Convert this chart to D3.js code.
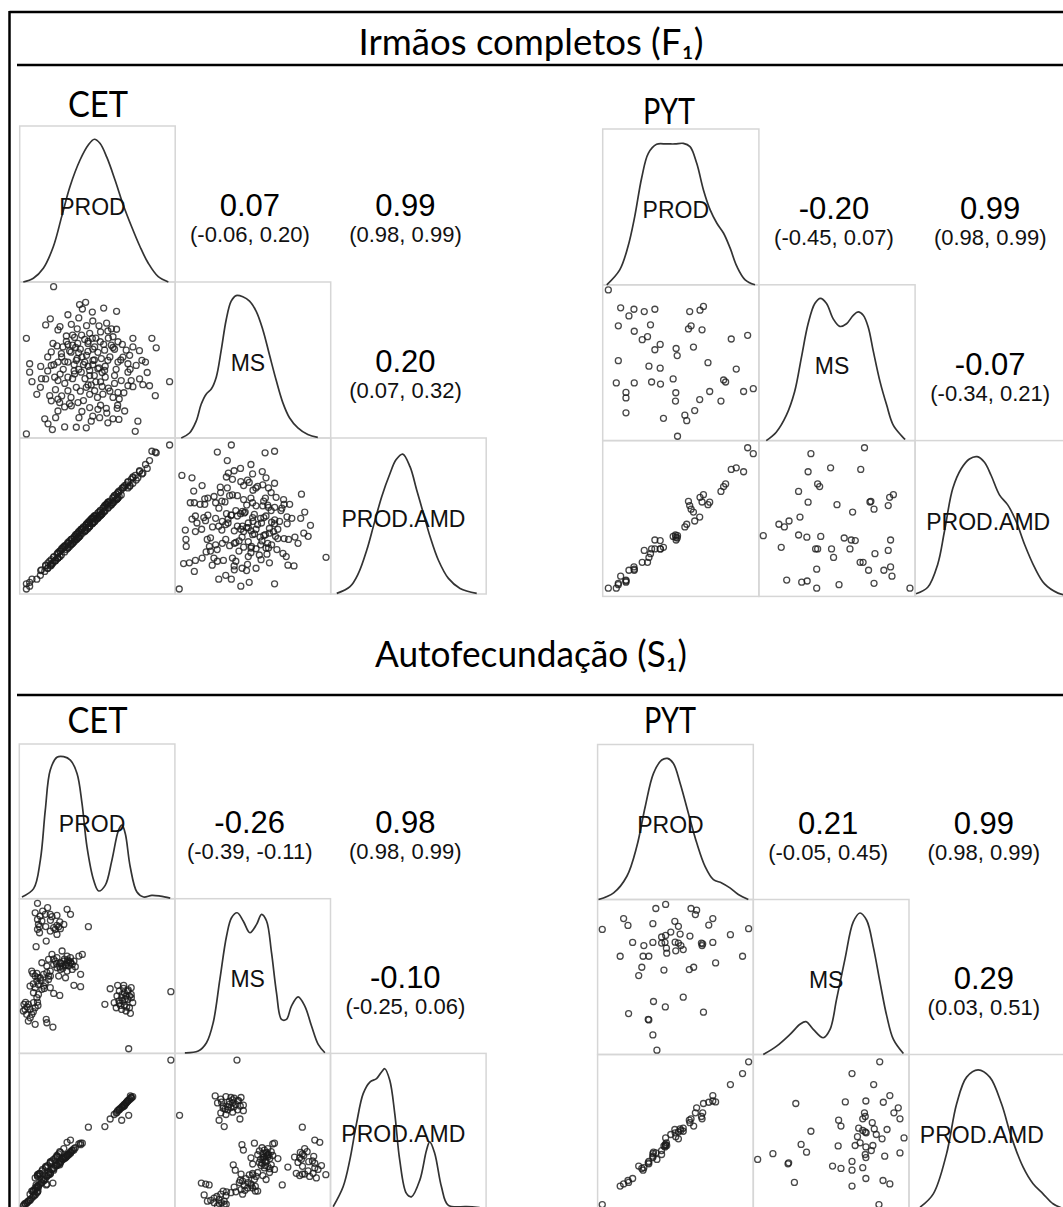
<!DOCTYPE html>
<html><head><meta charset="utf-8">
<script src="https://cdn.jsdelivr.net/npm/d3@7"></script>
<style>body{margin:0;background:#fff}svg{display:block}</style>
</head><body><svg id="c" width="1063" height="1207"></svg>
<script>
// ---------- labels ----------
const groupTitles = ["Irmãos completos (F₁)", "Autofecundação (S₁)"];
const varNames = ["PROD", "MS", "PROD.AMD"];

// ---------- correlations (PROD-MS, PROD-PROD.AMD, MS-PROD.AMD) ----------
const rCETF1 = [0.07, 0.99, 0.20];
const ciCETF1 = [[-0.06, 0.20], [0.98, 0.99], [0.07, 0.32]];
const rPYTF1 = [-0.20, 0.99, -0.07];
const ciPYTF1 = [[-0.45, 0.07], [0.98, 0.99], [-0.34, 0.21]];
const rCETS1 = [-0.26, 0.98, -0.10];
const ciCETS1 = [[-0.39, -0.11], [0.98, 0.99], [-0.25, 0.06]];
const rPYTS1 = [0.21, 0.99, 0.29];
const ciPYTS1 = [[-0.05, 0.45], [0.98, 0.99], [0.03, 0.51]];

// ---------- observations (values in % of each variable's plotted range) ----------
const prodCETF1 = [21.8,38.5,42.4,40.3,46.7,54,62.3,19.7,16.7,25.9,33.2,24.6,51,55.9,56.7,62.3,45,39.8,30,35.3,41.8,46.7,60,51.8,72.8,85,4.3,87.8,21.4,27.8,34,37.3,43.9,48.2,58.9,63.2,68.5,72.8,78.6,80.9,20.3,26.8,32.1,37.9,43.9,50.3,54.6,61,66.4,70.7,6.4,6.4,13.5,20.3,24.6,31,36.4,41.8,47.1,52.5,56.7,63.2,69.6,74.9,69.6,7.9,13.3,16.7,22.5,24.6,31,35.3,39.6,45,50.3,54.6,61,65.3,71.7,77.1,83.5,79.2,96.4,19.3,24.6,31,36.4,42.8,48.2,53.5,60,63.2,69.6,72.8,87.2,20.3,25.7,28.9,33.2,37.5,45,50.3,55.7,62.7,67.5,24.6,16.1,18.2,23.1,28.9,36.4,38.1,42.8,46,51.4,56.7,60,63.8,76,21,74.3,4.3,40,44,48,52,46,50,38,34,28,42,55,58,54,49,36,31,27,45,41,52,57,62,66,59,43,37,29,33,22,18,47,53,39,35,61,64,44,48,
 30,34,39,43,47,51,55,58,53,49,45,41,37,33,29,26,23,27,32,40,47,56,63,67,71,65,60,57,52,47,38,31,24,18,14,11,77,82,35,44];
const msCETF1 = [97,85.5,87,82.7,80.7,83.3,81.2,76.4,72.5,71.4,72.9,69.3,71.9,73.6,68.6,69.7,67.1,66,65.4,64.5,63.2,63.9,64.9,61.7,63.9,63.9,63.9,57.8,60.6,58.4,59.5,60.6,60.6,58.4,59.5,61.7,56.3,58.4,49.8,48.7,55.2,54.1,55.8,54.6,55.5,54.9,56.3,56.9,51.9,53,47.6,42.2,45.9,46.5,48.7,48.7,49.8,48.7,49.8,50.9,49.8,48.7,47.6,46.5,42.2,36.1,32.5,37.9,39,36.8,39,41.1,42.2,43.3,44.4,43.3,40,36.8,36.8,37.9,33.5,34.2,36.1,27.1,24.9,30.3,32.5,32.5,30.3,28.1,26,29.2,33.5,32.9,27.1,23.8,22.7,19.9,20.6,22.7,19.5,18.4,19,19,17.3,17.3,12.3,9.1,13,7.1,6.9,13,6.5,10.8,13,9.7,12.3,11.9,10.8,5.4,4.3,2.6,52,46,40,36,34,26,44,38,44,38,46,52,60,64,58,60,52,28,24,21,32,44,60,70,72,70,35,26,47,43,57,42,30,47,35,25,62,50,
 62,66,57,53,47,45,39,30,33,36,40,47,51,55,49,41,31,27,22,17,14,16,21,29,44,50,58,64,68,75,77,79,59,52,38,28,56,42,43,34];
const amdCETF1 = [23.5,37,44,39,48.5,52.5,64,18,18.5,24,35,26,49.5,57.5,55,60.5,46.5,41.5,28.5,37,40,45,62,53.5,71,91.5,6.5,90.5,20,29.5,32.5,39,42,50,57,65,70,74.5,77,83,22,25,34,36.5,45.5,48.5,56.5,59.5,68,69,7.5,5,15,19,26.5,29.5,38,40.5,49,51,58.5,61.5,71.5,73,72,9.5,12,18,21,23,33,34,41.5,43.5,52,53,63,63.5,73.5,79,85.5,77.5,95.5,21,23,32.5,35,44.5,46.5,55,58.5,65,68,75,91,18.5,27.5,27,35,36,47,49,57.5,61,69.5,23,14.5,20,21.5,30.5,35,40,41,48,50,58.5,58.5,66,74.5,19.5,76,3.2,41.5,42.5,50,50.5,48,48.5,40,32.5,30,40.5,57,56.5,55.5,47.5,38,29.5,29,43.5,43,50.5,59,60.5,68,57.5,45,35.5,31,31.5,24,16.5,49,51.5,41,33.5,63,62.5,46,46.5,
 31.5,35.5,37.5,44.5,45.5,52.5,53.5,59.5,51.5,50.5,43.5,42.5,38.5,31.5,30.5,27.5,21.5,28.5,30.5,41.5,45.5,57.5,61.5,68.5,69.5,66.5,61.5,55.5,53.5,48.5,36.5,32.5,25.5,16.5,15.5,9.5,78.5,80.5,36.5,45.5];

const prodPYTF1 = [3.6,8.7,10,10,11.5,14.9,14.9,14.9,16.8,20,20.2,20.2,25.3,26.6,28.7,29.6,30.6,31.3,33.4,33.4,36.8,36.8,37,38.9,45.1,46.6,46.8,47,47.7,47.9,52.6,53.8,54.9,55.7,56.6,58.1,58.9,62.1,62.3,63.6,64.5,67.4,68.5,75.7,77.4,78.7,82.3,85.5,90.2,92.8,96.4];
const msPYTF1 = [96.7,37,73.7,51.3,85.2,30.9,27.4,17.8,80,84.3,70.2,37,64.8,82.8,66.7,47.8,74.3,37.6,84.3,58.3,61.7,46.5,36.3,14.3,39.6,25.4,30.7,59.1,54.6,2.8,16.3,12.8,71.7,82.8,73.7,60,19.3,26.3,83.7,71.1,86.1,50,31.5,25.4,38.9,37.6,65.2,45.9,31.5,67.6,33.3];
const amdPYTF1 = [5.3,5.3,8.4,7.5,13,9.9,9.1,10.5,16.8,18.9,16.8,17.5,21.9,29.5,21.9,25,27.4,30.5,36.2,30.5,35.8,30.5,30.5,31.5,38.5,39.4,38,36.2,37.5,39,44.6,46.3,61,58.3,56,54.1,48.4,50.9,63.6,60.6,65.3,58.9,60.5,67.4,70.5,72.2,81.5,82.5,80,95.4,91.6];

const prodCETS1 = [11.7,18.2,30.7,32.9,10.2,16.7,19.9,24.2,11.7,14.5,12.3,24.2,22.1,26.4,19.9,11.7,24.2,17.3,28.6,44.4,13.4,23.2,25.3,13,21,
 10.8,27.5,21,18.8,24.2,30.7,32.9,38.3,40.5,14.5,22.1,26.4,28.6,30.7,31.8,34,35.1,24.2,19.9,8,11.3,10.2,15.6,17.7,30.7,34,39.4,25.3,29.7,18.8,16.7,12.3,6.9,10.2,14.5,9.1,12.3,22.1,26,35.1,39.4,19.9,15.6,29.7,31.8,28.1,32.9,26.4,23.2,17.7,13.4,11.3,18.8,8.7,
 3,5.8,9.1,11.7,3.7,6.9,10.2,4.8,8,5.8,10.2,17.3,17.7,21.6,2.6,11.3,
 58.4,63.2,67.1,71.9,64.3,67.5,71.9,62.8,65.8,69.7,61,64.3,67.5,70.8,68.6,71.4,55,65.8,62.3,72.9,69.7,68.6,66.5,70.8,
 97.4,70.3,
 27,29,31,33,26,28,30,24,22,36,20,14,12,9,16,
 66,68,64,70,67,69,72,65,
 15,20,17,26,13,
 5,7,9,4,12];
const msCETS1 = [97,94.2,93.1,89.9,90.9,89.9,89.9,89.2,86.6,85.6,83.4,82.8,81.3,80.6,79.1,80.2,76.9,72.6,83.4,81.9,88.8,80.2,81.9,81.9,88.4,
 69,66.2,64,60.8,61.9,62.9,61.9,62.9,64,58.6,57.5,58.6,59.7,58.6,56.5,57.5,59.7,55.4,53.2,53.2,51.7,50,51.1,52.2,53.2,54.3,51.1,50,48.9,47.8,45.7,44.6,43.5,42.5,41.4,39.2,38.1,38.8,37.5,44,43.1,42.5,43.5,57.3,59.7,56.5,58.6,54.3,59.7,56.5,48.9,46.8,50,51.7,
 31.7,31.7,32.8,33.2,28.4,28.4,29.5,25.2,25.2,20.9,18.8,22,19.8,17,27.4,36,
 41.8,44,44,42.5,40.3,39.2,38.1,37.1,36,34.9,32.8,32.3,31,29.5,27.4,25.9,31.7,28.4,29.5,32.8,40.3,37.1,33.8,37.1,
 39.9,3,
 58,61,60.5,59,56,55,57,58,61,56,50,47,49,45,42,
 38,35,34,41,42,30,36,31,
 92,86,82,85,78,
 30,23,27,33,31];
const amdCETS1 = [21.6,27.5,42.5,44,19.5,26,29,33.5,20.5,24,22,34,31.5,36,29.5,21,33,26.5,38.5,52.3,22.5,32.5,35,22,30.5,
 15,32,25,23,28,34,36.5,41.5,42,18.5,26,30,33,33.5,35,37.5,38.5,27.5,23,11,14,13,18.5,20.5,34.5,37,42,28.5,32.5,21.5,19,14.5,9,12,16.5,10.5,13.5,24.5,28,37.5,41,22,17.5,33,34.5,31.5,35.5,29.5,27,21,15.5,13,21.5,11,
 2.2,4.5,8,10.5,3,5.5,9,3.5,6.5,4.5,8.5,15,15.5,16.2,1.5,10,
 57.6,63,66.5,71.5,63.5,67,71,62,65,69,60.5,64,66,70.5,68,72.5,52.7,56.8,61.5,72,69.5,68,65.5,70,
 95.7,60,
 30.5,32,34.5,36,29,31.5,33,27.5,25.5,39,22.5,16.5,14.5,11.5,18,
 65.5,67,63.5,69.5,66,68.5,71.5,64.5,
 25,30,27,36.5,22.5,
 3.5,5,7.5,2.5,11];

const prodPYTS1 = [3,14.5,16.7,19.5,19.9,22.5,26.4,28.4,29.2,29.7,32.5,32.9,32.9,35.5,35.5,35.5,35.9,37.4,38.1,41.1,41.1,42.6,43.3,43.5,43.7,43.7,44.2,44.4,47,49.6,49.8,50.2,51.9,51.9,53,53.5,55,55,58.9,59.3,60,61.7,62.8,63.6,66.7,67.1,67.5,68,71.4,74,74,75.8,85.3,93.1,97];
const msPYTS1 = [80.7,63.4,87.7,83.3,26.4,72.3,50.9,56.3,63.4,70.3,22.7,22.3,63.4,84.4,72.3,12.6,34.2,94.2,2.8,75.8,71.9,54.5,72.3,30.7,96.8,76.8,68.6,65.4,79,85.9,72.5,66.9,82.7,71.9,77.7,70.3,67.7,37,54.8,76.4,94.2,56.3,90.3,93.1,71.9,70.3,71.4,27.3,83.5,87.7,72.3,59.1,77.3,63.4,81.2];
const amdPYTS1 = [3.2,15.1,16.5,18.7,17.5,20,28,26.5,25.4,27,30.1,29.5,31,34.4,33.5,36,37,36.5,32.3,38,35.5,41,40.4,42,46.2,41.3,43,41.3,48.4,51.6,49.5,47,45.6,50,52,51,52.5,50.5,57.6,56,58.5,53.8,62.4,65.6,60,58.5,62.4,68.4,69.2,73.5,70,69.4,80.6,87.7,95.3];

// ---------- density curves: [x %, height %] ----------
const densCETF1_PROD = [[2.3,0],[8.8,2.4],[15.2,8.8],[21.6,22.6],[27,41.9],[32.3,61.1],[38.8,78.2],[44.1,87.8],[48,91.5],[51.6,88.9],[56,80],[61.3,65.4],[66.6,49.4],[72,35.4],[77.4,22.6],[82.7,12],[89.1,3.4],[95.6,0]];
const densCETF1_MS = [[3.9,0],[9.2,3.2],[13.5,10.8],[16.7,21.6],[19.9,28.1],[23.2,31.4],[26.4,39],[29.6,56.3],[32.8,75.8],[36,87.7],[39.2,91.3],[43.5,90.5],[47.8,87.7],[52.1,81.2],[56.4,69.3],[60.7,53],[65,36.8],[69.2,22.7],[73.5,13],[78.9,6.5],[85.3,2.2],[91.7,0.4]];
const densCETF1_AMD = [[3.9,0.4],[12.4,4.7],[17.8,13.2],[23.2,28.2],[27.4,43.2],[32.8,62.4],[38.2,77.4],[42,86],[46.3,89.7],[51,81.6],[55.3,66.7],[59.6,51.7],[63.9,36.8],[69.2,21.8],[75.7,10],[83.2,3.6],[93.9,0.4]];
const densPYTF1_PROD = [[2.6,0],[10.9,9.6],[16.2,24.6],[20.5,43.8],[24.9,68.4],[29.2,84.4],[34.5,90.2],[40.9,90.4],[46.3,90.4],[51.6,90.8],[55.9,88.7],[60.2,78],[64.5,60.9],[68.8,48.1],[73.1,39.5],[77.4,33.1],[81.6,23.5],[85.9,11.8],[91.2,3.2],[97.5,0]];
const densPYTF1_MS = [[4.7,0],[11.1,5.4],[17.6,16.3],[22.9,31.5],[27.2,53.3],[31.5,75],[35.8,88],[39.4,91.3],[43.3,88],[47.5,78.3],[51.8,73.3],[56.1,75],[60.4,80.4],[63.6,82.6],[66.8,80.4],[70,72.8],[73.2,57.6],[77.5,38],[81.8,22.8],[86.1,9.8],[93.6,0.7]];
const densPYTF1_AMD = [[0.6,1.7],[8.1,5.9],[14.5,20.7],[18.8,41.8],[24.1,69.2],[29.5,81.9],[34.8,88.2],[39.7,89.7],[44.4,86.1],[48.7,77.6],[54.1,65],[59.4,58.6],[64.7,48.1],[70.1,33.3],[76.5,18.6],[82.9,8],[91.5,2.1],[97.9,0.6]];
const densCETS1_PROD = [[1.7,1.1],[9.2,6.5],[13.5,24.8],[16.7,57.2],[19.9,83.2],[24.2,91.4],[28.5,91.8],[32.8,89.6],[37.1,81],[40.3,61.6],[43.5,33.5],[47.8,11.9],[51,5],[55.2,8.6],[59.5,24.8],[63.8,44.3],[66,47.5],[68.1,42.1],[71.3,20.5],[75.6,4.3],[79.9,1.1],[85.2,2.2],[90.6,1.7],[97,0.4]];
const densCETS1_MS = [[6.4,0.4],[15,1.5],[20.3,6.9],[24.6,19.8],[28.9,47.8],[33.2,75.9],[36.4,87.7],[40,90.9],[43.9,85.6],[48.2,78],[52.5,83.4],[55.7,89.9],[58.9,85.6],[62.1,65.1],[65.3,39.2],[68.5,22],[71.7,22],[74.9,30.6],[79.2,36.6],[83.5,30.6],[87.8,17.7],[92.1,5.8],[96.4,0.4]];
const densCETS1_AMD = [[1.7,0.9],[8.1,13.8],[12.4,31],[16.7,54.6],[21,74],[25.3,81.5],[29.6,83.7],[32.8,88],[34.9,90.1],[38.1,82.6],[41.3,61.1],[44.5,31],[48.8,9.5],[52,7.3],[57.4,18.1],[61.7,37.4],[63.8,42.8],[67,35.3],[71.3,13.8],[75.6,1.9],[87.4,0.9],[95.9,0.4]];
const densPYTS1_PROD = [[0.6,0],[10.3,4.3],[18.8,15],[25.2,34.3],[30.6,60],[35.9,81.4],[41.2,90],[44.9,91],[48.7,87.8],[53,75],[58.3,55.7],[63.7,36.4],[69,21.4],[74.4,12.8],[79.7,10.7],[85,7.5],[90.4,3.2],[96.8,0]];
const densPYTS1_MS = [[6.4,0],[15,5.4],[23.6,13],[30,19.5],[33.8,21.2],[38.5,16.2],[44.9,10.8],[49.3,16.2],[53.5,35.7],[58.9,61.7],[64.2,85.5],[68.5,91.3],[72.8,86.6],[77.1,69.3],[81.4,46.5],[85.7,24.9],[90,9.7],[96.4,0.6]];
const densPYTS1_AMD = [[7.1,1.5],[15.6,10.1],[24.1,35.9],[30.6,68.2],[37,85.4],[44.4,90.1],[51.9,85.4],[59.4,68.2],[65.8,46.7],[73.3,27.3],[79.7,16.6],[86.1,10.1],[92.5,3.7],[98,1]];

// ---------- layout ----------
const panels = [
  {name:"CET", x0:19.7, y0:126, w:155.5, h:156, lx:98, ly:117,
   vars:[prodCETF1, msCETF1, amdCETF1], dens:[densCETF1_PROD, densCETF1_MS, densCETF1_AMD], r:rCETF1, ci:ciCETF1},
  {name:"PYT", x0:602.7, y0:129, w:156.2, h:155.8, lx:669, ly:124,
   vars:[prodPYTF1, msPYTF1, amdPYTF1], dens:[densPYTF1_PROD, densPYTF1_MS, densPYTF1_AMD], r:rPYTF1, ci:ciPYTF1},
  {name:"CET", x0:19.3, y0:744, w:155.6, h:154.7, lx:97.5, ly:733,
   vars:[prodCETS1, msCETS1, amdCETS1], dens:[densCETS1_PROD, densCETS1_MS, densCETS1_AMD], r:rCETS1, ci:ciCETS1},
  {name:"PYT", x0:597.6, y0:744.5, w:155.7, h:155, lx:670, ly:733,
   vars:[prodPYTS1, msPYTS1, amdPYTS1], dens:[densPYTS1_PROD, densPYTS1_MS, densPYTS1_AMD], r:rPYTS1, ci:ciPYTS1}
];
const headers = [{y:55, lineY:65, tl:345}, {y:667, lineY:695, tl:312}];

const svg = d3.select("#c");
const fmt = d3.formatLocale({decimal:".", thousands:",", grouping:[3], currency:["",""], minus:"-"}).format(".2f");
const titleFont = "Lato, 'Open Sans', sans-serif";
const plotFont = "'Liberation Sans', Arial, sans-serif";

// frame
svg.append("line").attr("x1",9.5).attr("x2",1063).attr("y1",12).attr("y2",12).attr("stroke","#000").attr("stroke-width",2.5);
svg.append("line").attr("x1",9.5).attr("x2",9.5).attr("y1",11).attr("y2",1207).attr("stroke","#000").attr("stroke-width",2.5);

headers.forEach((h, k) => {
  svg.append("text").attr("x",531).attr("y",h.y).attr("text-anchor","middle")
    .attr("font-family",titleFont).attr("font-size",36).attr("fill","#000")
    .attr("textLength",h.tl).attr("lengthAdjust","spacingAndGlyphs").text(groupTitles[k]);
  svg.append("line").attr("x1",17).attr("x2",1063).attr("y1",h.lineY).attr("y2",h.lineY)
    .attr("stroke","#000").attr("stroke-width",2.5);
});

const pairs = [[0,1],[0,2],[1,2]];

panels.forEach(p => {
  const g = svg.append("g");
  const cx = j => p.x0 + j*p.w, cy = i => p.y0 + i*p.h;
  const xs = j => d3.scaleLinear([0,100],[cx(j), cx(j)+p.w]);
  const ys = i => d3.scaleLinear([0,100],[cy(i)+p.h, cy(i)]);

  g.append("text").attr("x",p.lx).attr("y",p.ly).attr("text-anchor","middle")
    .attr("font-family",titleFont).attr("font-size",37).attr("fill","#000")
    .attr("textLength",p.name==="CET"?60:52).attr("lengthAdjust","spacingAndGlyphs").text(p.name);

  // boxes (lower triangle + diagonal)
  for (let i=0;i<3;i++) for (let j=0;j<=i;j++) {
    g.append("rect").attr("x",cx(j)).attr("y",cy(i)).attr("width",p.w).attr("height",p.h)
      .attr("fill","none").attr("stroke","#d6d6d6").attr("stroke-width",1.5);
  }
  // densities + labels
  for (let i=0;i<3;i++) {
    const x = xs(i), y = ys(i);
    const line = d3.line().x(d=>x(d[0])).y(d=>y(d[1])).curve(d3.curveCatmullRom.alpha(0.5));
    g.append("path").attr("d",line(p.dens[i])).attr("fill","none").attr("stroke","#333").attr("stroke-width",1.7);
    g.append("text").attr("x",cx(i)+p.w/2-5).attr("y",cy(i)+p.h/2+11).attr("text-anchor","middle")
      .attr("font-family",plotFont).attr("font-size",23).attr("fill","#111").text(varNames[i]);
  }
  // scatters
  for (let i=1;i<3;i++) for (let j=0;j<i;j++) {
    const x = xs(j), y = ys(i);
    const xv = p.vars[j], yv = p.vars[i];
    g.append("g").selectAll("circle").data(d3.range(xv.length)).join("circle")
      .attr("cx",k=>x(xv[k])).attr("cy",k=>y(yv[k])).attr("r",3.0)
      .attr("fill","none").attr("stroke","#1a1a1a").attr("stroke-opacity",0.8).attr("stroke-width",1.3);
  }
  // correlation text
  pairs.forEach(([i,j],k) => {
    const tx = cx(j)+p.w/2-3, ty = cy(i)+p.h/2;
    g.append("text").attr("x",tx).attr("y",ty+12).attr("text-anchor","middle")
      .attr("font-family",plotFont).attr("font-size",31).attr("fill","#000").text(fmt(p.r[k]));
    g.append("text").attr("x",tx).attr("y",ty+38).attr("text-anchor","middle")
      .attr("font-family",plotFont).attr("font-size",22).attr("fill","#111")
      .text("(" + fmt(p.ci[k][0]) + ", " + fmt(p.ci[k][1]) + ")");
  });
});
</script></body></html>
